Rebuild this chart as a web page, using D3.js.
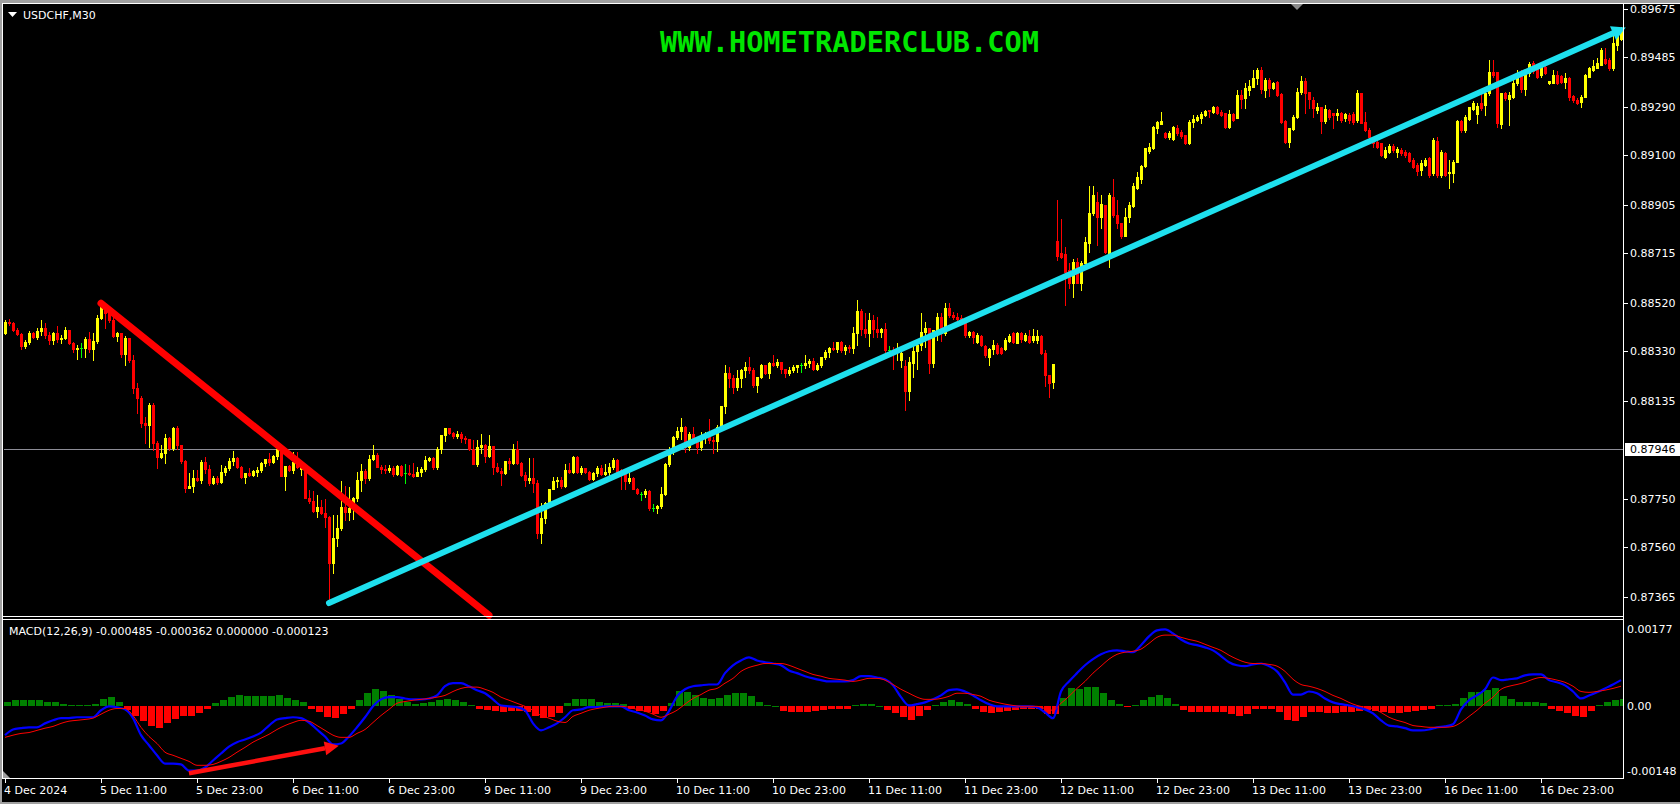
<!DOCTYPE html>
<html><head><meta charset="utf-8">
<script src="https://cdn.jsdelivr.net/npm/d3@7"></script>
<style>html,body{margin:0;padding:0;background:#000;overflow:hidden}svg{display:block}</style>
</head><body>
<svg id="chart" width="1680" height="804"></svg>
<script>
// ---------- DATA (USDCHF M30) ----------
const symbolTitle = "USDCHF,M30";
const watermark = "WWW.HOMETRADERCLUB.COM";
const macdTitle = "MACD(12,26,9) -0.000485 -0.000362 0.000000 -0.000123";

const open=[
0.88401,0.88445,0.88441,0.88413,0.88397,0.88350,0.88366,0.88401,0.88386,0.88409,
0.88421,0.88394,0.88374,0.88401,0.88378,0.88382,0.88413,0.88362,0.88339,0.88342,
0.88342,0.88378,0.88339,0.88370,0.88460,0.88507,0.88480,0.88452,0.88390,0.88401,
0.88319,0.88382,0.88295,0.88185,0.88146,0.88048,0.88040,0.88119,0.87969,0.87914,
0.87930,0.87989,0.87950,0.88028,0.87962,0.87899,0.87793,0.87801,0.87832,0.87824,
0.87895,0.87867,0.87812,0.87832,0.87816,0.87856,0.87871,0.87899,0.87911,0.87875,
0.87836,0.87852,0.87844,0.87856,0.87863,0.87891,0.87907,0.87895,0.87918,0.87946,
0.87840,0.87879,0.87863,0.87895,0.87867,0.87875,0.87753,0.87742,0.87702,0.87718,
0.87694,0.87679,0.87498,0.87596,0.87636,0.87718,0.87698,0.87714,0.87753,0.87824,
0.87859,0.87832,0.87907,0.87922,0.87875,0.87867,0.87863,0.87871,0.87848,0.87879,
0.87852,0.87852,0.87848,0.87840,0.87856,0.87867,0.87903,0.87911,0.87875,0.87946,
0.88001,0.88028,0.88009,0.87997,0.88005,0.87989,0.87985,0.87946,0.87887,0.87954,
0.87962,0.87918,0.87958,0.87875,0.87859,0.87852,0.87899,0.87891,0.87946,0.87891,
0.87844,0.87824,0.87832,0.87812,0.87616,0.87675,0.87734,0.87789,0.87820,0.87824,
0.87801,0.87863,0.87856,0.87914,0.87856,0.87871,0.87856,0.87828,0.87852,0.87871,
0.87848,0.87856,0.87875,0.87903,0.87863,0.87848,0.87820,0.87832,0.87789,0.87769,
0.87769,0.87781,0.87714,0.87714,0.87722,0.87769,0.87887,0.87934,0.87993,0.88017,
0.88032,0.87954,0.88005,0.87981,0.87954,0.87993,0.88005,0.87981,0.87977,0.88032,
0.88115,0.88244,0.88225,0.88189,0.88225,0.88256,0.88268,0.88256,0.88197,0.88229,
0.88276,0.88244,0.88284,0.88276,0.88287,0.88260,0.88244,0.88256,0.88268,0.88276,
0.88276,0.88284,0.88291,0.88260,0.88276,0.88307,0.88327,0.88342,0.88339,0.88366,
0.88335,0.88346,0.88342,0.88401,0.88488,0.88417,0.88401,0.88452,0.88417,0.88405,
0.88417,0.88335,0.88335,0.88327,0.88295,0.88272,0.88174,0.88284,0.88331,0.88354,
0.88405,0.88421,0.88284,0.88413,0.88464,0.88401,0.88500,0.88472,0.88464,0.88460,
0.88441,0.88394,0.88405,0.88366,0.88390,0.88350,0.88307,0.88339,0.88354,0.88342,
0.88339,0.88370,0.88401,0.88362,0.88401,0.88374,0.88390,0.88374,0.88374,0.88390,
0.88323,0.88236,0.88209,0.88763,0.88716,0.88712,0.88649,0.88598,0.88680,0.88598,
0.88676,0.88755,0.88873,0.88916,0.88857,0.88904,0.88716,0.88936,0.88865,0.88834,
0.88783,0.88857,0.88900,0.88971,0.89007,0.89058,0.89117,0.89128,0.89207,0.89223,
0.89187,0.89172,0.89164,0.89207,0.89191,0.89180,0.89148,0.89231,0.89238,0.89246,
0.89258,0.89278,0.89270,0.89290,0.89270,0.89266,0.89211,0.89262,0.89246,0.89337,
0.89325,0.89356,0.89368,0.89403,0.89435,0.89356,0.89396,0.89364,0.89388,0.89341,
0.89234,0.89152,0.89203,0.89250,0.89348,0.89392,0.89348,0.89317,0.89278,0.89290,
0.89234,0.89278,0.89266,0.89258,0.89266,0.89246,0.89258,0.89262,0.89238,0.89345,
0.89231,0.89199,0.89160,0.89152,0.89148,0.89093,0.89113,0.89136,0.89113,0.89121,
0.89113,0.89109,0.89081,0.89062,0.89042,0.89062,0.89089,0.89030,0.89156,0.89022,
0.89109,0.89030,0.89030,0.89073,0.89234,0.89199,0.89242,0.89282,0.89262,0.89305,
0.89297,0.89345,0.89427,0.89427,0.89223,0.89345,0.89321,0.89329,0.89384,0.89423,
0.89360,0.89423,0.89462,0.89443,0.89415,0.89447,0.89384,0.89384,0.89415,0.89411,
0.89388,0.89403,0.89333,0.89317,0.89309,0.89329,0.89407,0.89435,0.89443,0.89455,
0.89478,0.89474,0.89443,0.89533,0.89557];

const high=[
0.88452,0.88456,0.88445,0.88421,0.88401,0.88374,0.88409,0.88405,0.88421,0.88452,
0.88441,0.88405,0.88405,0.88429,0.88394,0.88425,0.88413,0.88366,0.88354,0.88362,
0.88386,0.88405,0.88401,0.88472,0.88531,0.88519,0.88500,0.88464,0.88405,0.88401,
0.88390,0.88382,0.88315,0.88205,0.88154,0.88072,0.88127,0.88127,0.87977,0.87962,
0.88005,0.87993,0.88032,0.88036,0.87962,0.87903,0.87852,0.87863,0.87863,0.87903,
0.87914,0.87883,0.87840,0.87840,0.87883,0.87879,0.87911,0.87938,0.87914,0.87879,
0.87852,0.87871,0.87863,0.87875,0.87895,0.87907,0.87930,0.87922,0.87962,0.87946,
0.87879,0.87883,0.87934,0.87934,0.87883,0.87879,0.87785,0.87781,0.87765,0.87746,
0.87749,0.87683,0.87687,0.87687,0.87820,0.87801,0.87797,0.87757,0.87856,0.87887,
0.87867,0.87922,0.87962,0.87930,0.87883,0.87883,0.87883,0.87879,0.87883,0.87883,
0.87887,0.87883,0.87891,0.87875,0.87875,0.87918,0.87914,0.87914,0.87954,0.88001,
0.88028,0.88028,0.88013,0.88017,0.88013,0.87997,0.87985,0.87981,0.87981,0.88005,
0.87966,0.88001,0.87958,0.87891,0.87871,0.87899,0.87911,0.87966,0.87977,0.87895,
0.87856,0.87911,0.87911,0.87824,0.87734,0.87738,0.87789,0.87836,0.87836,0.87836,
0.87887,0.87891,0.87918,0.87918,0.87879,0.87871,0.87859,0.87856,0.87879,0.87883,
0.87887,0.87891,0.87911,0.87907,0.87867,0.87852,0.87852,0.87836,0.87793,0.87777,
0.87789,0.87785,0.87730,0.87726,0.87797,0.87891,0.87954,0.87997,0.88032,0.88068,
0.88036,0.88013,0.88032,0.87993,0.88013,0.88013,0.88064,0.87993,0.88040,0.88115,
0.88276,0.88268,0.88236,0.88256,0.88260,0.88287,0.88307,0.88264,0.88229,0.88280,
0.88276,0.88287,0.88315,0.88299,0.88287,0.88260,0.88268,0.88276,0.88276,0.88284,
0.88315,0.88299,0.88303,0.88284,0.88307,0.88335,0.88346,0.88366,0.88366,0.88370,
0.88354,0.88354,0.88425,0.88531,0.88496,0.88480,0.88480,0.88472,0.88464,0.88421,
0.88441,0.88350,0.88346,0.88362,0.88335,0.88295,0.88307,0.88354,0.88362,0.88480,
0.88445,0.88421,0.88413,0.88480,0.88480,0.88519,0.88519,0.88484,0.88480,0.88472,
0.88445,0.88409,0.88409,0.88401,0.88394,0.88354,0.88342,0.88374,0.88362,0.88346,
0.88382,0.88397,0.88405,0.88405,0.88405,0.88401,0.88413,0.88417,0.88413,0.88394,
0.88335,0.88236,0.88280,0.88924,0.88849,0.88739,0.88676,0.88692,0.88696,0.88684,
0.88779,0.88979,0.88979,0.88955,0.88944,0.88904,0.88952,0.89007,0.88924,0.88834,
0.88893,0.88916,0.88991,0.89034,0.89062,0.89128,0.89148,0.89215,0.89234,0.89270,
0.89191,0.89195,0.89215,0.89219,0.89199,0.89180,0.89238,0.89258,0.89258,0.89270,
0.89278,0.89278,0.89293,0.89293,0.89278,0.89266,0.89278,0.89266,0.89356,0.89356,
0.89384,0.89396,0.89435,0.89443,0.89447,0.89403,0.89403,0.89388,0.89392,0.89345,
0.89238,0.89207,0.89258,0.89364,0.89411,0.89403,0.89348,0.89329,0.89305,0.89290,
0.89297,0.89282,0.89266,0.89282,0.89270,0.89266,0.89266,0.89270,0.89356,0.89345,
0.89270,0.89207,0.89168,0.89160,0.89148,0.89132,0.89144,0.89144,0.89132,0.89128,
0.89121,0.89113,0.89089,0.89069,0.89081,0.89089,0.89093,0.89168,0.89172,0.89121,
0.89113,0.89081,0.89081,0.89238,0.89238,0.89258,0.89290,0.89313,0.89305,0.89345,
0.89348,0.89474,0.89474,0.89427,0.89345,0.89348,0.89348,0.89403,0.89435,0.89435,
0.89435,0.89466,0.89470,0.89447,0.89455,0.89455,0.89392,0.89435,0.89431,0.89415,
0.89423,0.89407,0.89337,0.89325,0.89337,0.89419,0.89447,0.89474,0.89482,0.89521,
0.89521,0.89482,0.89580,0.89592,0.89604];

const low=[
0.88397,0.88433,0.88409,0.88394,0.88339,0.88342,0.88358,0.88382,0.88378,0.88394,
0.88382,0.88358,0.88358,0.88366,0.88362,0.88378,0.88358,0.88327,0.88299,0.88307,
0.88307,0.88327,0.88295,0.88362,0.88456,0.88421,0.88445,0.88386,0.88370,0.88307,
0.88276,0.88287,0.88166,0.88087,0.88032,0.87969,0.87954,0.87942,0.87871,0.87911,
0.87891,0.87942,0.87942,0.87946,0.87891,0.87777,0.87793,0.87777,0.87820,0.87812,
0.87852,0.87804,0.87808,0.87808,0.87812,0.87844,0.87863,0.87883,0.87871,0.87832,
0.87812,0.87840,0.87840,0.87840,0.87856,0.87879,0.87883,0.87891,0.87907,0.87840,
0.87785,0.87859,0.87852,0.87871,0.87844,0.87753,0.87734,0.87698,0.87679,0.87691,
0.87640,0.87349,0.87459,0.87565,0.87628,0.87667,0.87667,0.87671,0.87742,0.87781,
0.87812,0.87824,0.87903,0.87875,0.87852,0.87852,0.87856,0.87840,0.87844,0.87840,
0.87812,0.87844,0.87836,0.87840,0.87840,0.87859,0.87899,0.87867,0.87867,0.87930,
0.87977,0.88005,0.87989,0.87989,0.87973,0.87969,0.87942,0.87887,0.87879,0.87930,
0.87895,0.87914,0.87848,0.87856,0.87804,0.87848,0.87867,0.87887,0.87887,0.87840,
0.87801,0.87812,0.87777,0.87596,0.87577,0.87655,0.87730,0.87789,0.87797,0.87793,
0.87797,0.87852,0.87852,0.87852,0.87848,0.87852,0.87824,0.87824,0.87840,0.87844,
0.87844,0.87844,0.87867,0.87848,0.87789,0.87789,0.87812,0.87789,0.87769,0.87746,
0.87757,0.87706,0.87702,0.87694,0.87714,0.87765,0.87879,0.87926,0.87985,0.87985,
0.87934,0.87942,0.87969,0.87930,0.87942,0.87969,0.87969,0.87930,0.87938,0.88028,
0.88087,0.88189,0.88166,0.88178,0.88189,0.88229,0.88244,0.88189,0.88170,0.88225,
0.88240,0.88225,0.88272,0.88268,0.88244,0.88229,0.88236,0.88248,0.88248,0.88248,
0.88264,0.88268,0.88256,0.88256,0.88268,0.88299,0.88307,0.88335,0.88327,0.88327,
0.88319,0.88327,0.88323,0.88354,0.88394,0.88386,0.88350,0.88386,0.88386,0.88386,
0.88327,0.88323,0.88260,0.88295,0.88268,0.88099,0.88138,0.88229,0.88260,0.88335,
0.88346,0.88244,0.88268,0.88374,0.88370,0.88394,0.88464,0.88456,0.88441,0.88441,
0.88386,0.88386,0.88362,0.88362,0.88350,0.88307,0.88276,0.88319,0.88319,0.88319,
0.88335,0.88366,0.88362,0.88362,0.88366,0.88370,0.88362,0.88366,0.88362,0.88319,
0.88193,0.88150,0.88185,0.88688,0.88696,0.88511,0.88578,0.88543,0.88598,0.88570,
0.88676,0.88720,0.88865,0.88747,0.88814,0.88716,0.88661,0.88857,0.88814,0.88775,
0.88783,0.88838,0.88897,0.88967,0.88991,0.89054,0.89109,0.89124,0.89187,0.89223,
0.89168,0.89164,0.89160,0.89180,0.89168,0.89144,0.89144,0.89211,0.89234,0.89227,
0.89254,0.89250,0.89266,0.89262,0.89254,0.89207,0.89207,0.89234,0.89246,0.89286,
0.89286,0.89337,0.89368,0.89380,0.89345,0.89329,0.89333,0.89360,0.89333,0.89227,
0.89148,0.89132,0.89199,0.89246,0.89341,0.89266,0.89286,0.89250,0.89266,0.89187,
0.89227,0.89242,0.89207,0.89238,0.89231,0.89234,0.89227,0.89223,0.89231,0.89227,
0.89195,0.89168,0.89132,0.89128,0.89097,0.89089,0.89109,0.89113,0.89093,0.89101,
0.89093,0.89073,0.89050,0.89022,0.89022,0.89058,0.89014,0.89022,0.89014,0.89014,
0.89018,0.88971,0.88995,0.89073,0.89191,0.89191,0.89238,0.89278,0.89227,0.89278,
0.89258,0.89337,0.89407,0.89211,0.89207,0.89317,0.89219,0.89325,0.89376,0.89348,
0.89337,0.89411,0.89423,0.89403,0.89407,0.89419,0.89380,0.89384,0.89380,0.89384,
0.89364,0.89317,0.89309,0.89301,0.89290,0.89329,0.89407,0.89431,0.89443,0.89455,
0.89458,0.89435,0.89435,0.89514,0.89553];

const close=[
0.88445,0.88441,0.88413,0.88397,0.88350,0.88366,0.88401,0.88386,0.88409,0.88421,
0.88394,0.88374,0.88401,0.88378,0.88382,0.88413,0.88362,0.88339,0.88342,0.88342,
0.88378,0.88339,0.88370,0.88460,0.88519,0.88480,0.88452,0.88390,0.88401,0.88319,
0.88382,0.88295,0.88185,0.88146,0.88048,0.88040,0.88119,0.87969,0.87914,0.87930,
0.87989,0.87950,0.88028,0.87962,0.87899,0.87793,0.87801,0.87832,0.87824,0.87895,
0.87867,0.87812,0.87832,0.87816,0.87856,0.87871,0.87899,0.87911,0.87875,0.87836,
0.87852,0.87844,0.87859,0.87863,0.87891,0.87907,0.87895,0.87918,0.87946,0.87840,
0.87879,0.87863,0.87895,0.87875,0.87875,0.87753,0.87742,0.87702,0.87718,0.87694,
0.87679,0.87498,0.87596,0.87636,0.87718,0.87698,0.87714,0.87753,0.87824,0.87859,
0.87832,0.87907,0.87922,0.87875,0.87867,0.87863,0.87871,0.87848,0.87879,0.87844,
0.87852,0.87848,0.87840,0.87856,0.87867,0.87903,0.87911,0.87875,0.87946,0.88001,
0.88028,0.88009,0.87997,0.88005,0.87989,0.87985,0.87946,0.87887,0.87954,0.87962,
0.87918,0.87958,0.87875,0.87859,0.87852,0.87899,0.87891,0.87946,0.87891,0.87844,
0.87824,0.87832,0.87812,0.87616,0.87675,0.87734,0.87789,0.87820,0.87824,0.87801,
0.87863,0.87856,0.87914,0.87856,0.87871,0.87856,0.87828,0.87852,0.87871,0.87848,
0.87856,0.87875,0.87903,0.87852,0.87848,0.87820,0.87832,0.87789,0.87773,0.87769,
0.87781,0.87714,0.87714,0.87722,0.87769,0.87887,0.87934,0.87993,0.88017,0.88032,
0.87954,0.88005,0.87981,0.87954,0.87993,0.88005,0.87981,0.87977,0.88032,0.88115,
0.88244,0.88225,0.88189,0.88225,0.88256,0.88268,0.88256,0.88197,0.88229,0.88276,
0.88244,0.88284,0.88276,0.88287,0.88260,0.88244,0.88256,0.88268,0.88276,0.88276,
0.88284,0.88291,0.88260,0.88276,0.88307,0.88327,0.88342,0.88339,0.88366,0.88335,
0.88346,0.88342,0.88401,0.88488,0.88417,0.88401,0.88452,0.88417,0.88405,0.88417,
0.88335,0.88335,0.88327,0.88331,0.88323,0.88174,0.88287,0.88331,0.88354,0.88405,
0.88421,0.88284,0.88413,0.88464,0.88401,0.88500,0.88472,0.88464,0.88456,0.88452,
0.88394,0.88405,0.88386,0.88394,0.88354,0.88315,0.88339,0.88354,0.88323,0.88323,
0.88374,0.88390,0.88366,0.88401,0.88378,0.88394,0.88366,0.88390,0.88390,0.88323,
0.88236,0.88205,0.88280,0.88704,0.88700,0.88641,0.88598,0.88680,0.88598,0.88676,
0.88759,0.88873,0.88944,0.88857,0.88908,0.88720,0.88944,0.88865,0.88834,0.88783,
0.88857,0.88904,0.88979,0.89014,0.89058,0.89128,0.89132,0.89211,0.89231,0.89234,
0.89172,0.89187,0.89211,0.89187,0.89176,0.89148,0.89231,0.89242,0.89250,0.89262,
0.89274,0.89274,0.89290,0.89266,0.89258,0.89211,0.89262,0.89238,0.89337,0.89321,
0.89364,0.89372,0.89403,0.89435,0.89360,0.89396,0.89364,0.89384,0.89337,0.89231,
0.89152,0.89207,0.89250,0.89348,0.89392,0.89345,0.89321,0.89286,0.89290,0.89234,
0.89282,0.89250,0.89258,0.89266,0.89238,0.89262,0.89238,0.89231,0.89345,0.89227,
0.89199,0.89172,0.89148,0.89132,0.89101,0.89121,0.89136,0.89121,0.89124,0.89109,
0.89101,0.89077,0.89054,0.89038,0.89069,0.89081,0.89022,0.89160,0.89022,0.89113,
0.89022,0.89034,0.89073,0.89234,0.89199,0.89250,0.89290,0.89305,0.89293,0.89286,
0.89345,0.89427,0.89415,0.89227,0.89345,0.89325,0.89337,0.89384,0.89407,0.89360,
0.89427,0.89458,0.89431,0.89407,0.89447,0.89423,0.89392,0.89415,0.89384,0.89388,
0.89403,0.89329,0.89317,0.89305,0.89329,0.89415,0.89443,0.89451,0.89462,0.89514,
0.89462,0.89443,0.89541,0.89580,0.89592];

// MACD(12,26,9) read every 2nd bar (bar index = 2*k)
const macdStep = 2;
const macdMain=[
-0.00066,-0.00053,-0.00050,-0.00048,-0.00048,-0.00039,-0.00032,-0.00027,-0.00027,-0.00025,
-0.00025,-0.00025,-0.00009,0.00000,-0.00002,-0.00007,-0.00027,-0.00066,-0.00089,-0.00112,
-0.00131,-0.00131,-0.00133,-0.00147,-0.00147,-0.00140,-0.00124,-0.00108,-0.00092,-0.00082,
-0.00076,-0.00069,-0.00060,-0.00044,-0.00030,-0.00027,-0.00025,-0.00027,-0.00037,-0.00053,
-0.00069,-0.00087,-0.00085,-0.00069,-0.00048,-0.00025,0.00000,0.00016,0.00021,0.00021,
0.00018,0.00016,0.00016,0.00018,0.00025,0.00046,0.00053,0.00053,0.00046,0.00037,
0.00030,0.00016,0.00002,0.00000,-0.00002,-0.00009,-0.00039,-0.00055,-0.00048,-0.00039,
-0.00025,-0.00009,-0.00007,-0.00002,-0.00002,0.00000,0.00000,0.00000,-0.00009,-0.00014,
-0.00021,-0.00030,-0.00032,-0.00011,0.00023,0.00039,0.00046,0.00048,0.00050,0.00050,
0.00076,0.00094,0.00105,0.00112,0.00105,0.00101,0.00098,0.00094,0.00082,0.00076,
0.00069,0.00064,0.00060,0.00057,0.00057,0.00057,0.00060,0.00069,0.00069,0.00066,
0.00062,0.00048,0.00021,0.00002,0.00005,0.00009,0.00016,0.00025,0.00037,0.00039,
0.00034,0.00025,0.00014,0.00005,0.00000,0.00000,0.00000,0.00000,0.00000,-0.00002,
-0.00014,-0.00027,0.00034,0.00057,0.00076,0.00094,0.00108,0.00119,0.00126,0.00128,
0.00126,0.00124,0.00140,0.00160,0.00174,0.00176,0.00167,0.00153,0.00144,0.00140,
0.00135,0.00128,0.00115,0.00101,0.00094,0.00092,0.00096,0.00098,0.00092,0.00080,
0.00055,0.00027,0.00027,0.00034,0.00030,0.00018,0.00009,0.00005,0.00002,-0.00002,
-0.00007,-0.00016,-0.00032,-0.00044,-0.00046,-0.00050,-0.00055,-0.00055,-0.00053,-0.00048,
-0.00046,-0.00041,-0.00007,0.00014,0.00025,0.00039,0.00066,0.00060,0.00062,0.00064,
0.00071,0.00073,0.00073,0.00060,0.00055,0.00048,0.00034,0.00018,0.00025,0.00032,
0.00041,0.00050,0.00060];
const macdSignal=[
-0.00071,-0.00066,-0.00062,-0.00060,-0.00055,-0.00050,-0.00046,-0.00039,-0.00034,-0.00032,
-0.00030,-0.00027,-0.00018,-0.00009,-0.00005,-0.00005,-0.00021,-0.00048,-0.00069,-0.00085,
-0.00105,-0.00112,-0.00119,-0.00126,-0.00135,-0.00135,-0.00133,-0.00126,-0.00117,-0.00105,
-0.00094,-0.00082,-0.00073,-0.00064,-0.00053,-0.00044,-0.00037,-0.00032,-0.00034,-0.00044,
-0.00055,-0.00066,-0.00071,-0.00071,-0.00062,-0.00053,-0.00037,-0.00021,-0.00007,0.00007,
0.00011,0.00014,0.00016,0.00018,0.00021,0.00025,0.00034,0.00041,0.00044,0.00044,
0.00039,0.00032,0.00021,0.00014,0.00007,0.00000,-0.00009,-0.00021,-0.00027,-0.00034,
-0.00037,-0.00023,-0.00016,-0.00009,-0.00005,-0.00002,0.00000,0.00000,-0.00002,-0.00007,
-0.00011,-0.00018,-0.00025,-0.00018,-0.00009,0.00005,0.00018,0.00027,0.00037,0.00041,
0.00053,0.00064,0.00080,0.00089,0.00094,0.00098,0.00098,0.00098,0.00094,0.00087,
0.00080,0.00073,0.00069,0.00064,0.00062,0.00060,0.00057,0.00060,0.00064,0.00064,
0.00060,0.00050,0.00039,0.00030,0.00021,0.00016,0.00016,0.00018,0.00023,0.00030,
0.00030,0.00027,0.00023,0.00014,0.00009,0.00005,0.00002,0.00000,0.00000,0.00000,
-0.00005,-0.00009,0.00007,0.00023,0.00041,0.00057,0.00076,0.00092,0.00108,0.00119,
0.00124,0.00126,0.00131,0.00144,0.00158,0.00163,0.00163,0.00158,0.00153,0.00149,
0.00142,0.00135,0.00128,0.00117,0.00108,0.00101,0.00098,0.00098,0.00096,0.00092,
0.00080,0.00062,0.00050,0.00046,0.00041,0.00034,0.00025,0.00018,0.00009,0.00002,
-0.00002,-0.00005,-0.00014,-0.00025,-0.00032,-0.00037,-0.00044,-0.00046,-0.00048,-0.00048,
-0.00048,-0.00046,-0.00037,-0.00023,-0.00009,0.00007,0.00021,0.00039,0.00046,0.00050,
0.00055,0.00062,0.00066,0.00064,0.00060,0.00055,0.00046,0.00034,0.00032,0.00034,
0.00037,0.00041,0.00046];
const macdHist=[
0.00011,0.00014,0.00014,0.00014,0.00014,0.00011,0.00011,0.00005,0.00002,0.00002,
0.00002,0.00005,0.00016,0.00021,0.00011,-0.00009,-0.00023,-0.00034,-0.00046,-0.00050,
-0.00039,-0.00030,-0.00023,-0.00021,-0.00016,-0.00005,0.00007,0.00014,0.00021,0.00025,
0.00023,0.00023,0.00023,0.00023,0.00025,0.00018,0.00014,0.00009,-0.00005,-0.00014,
-0.00025,-0.00027,-0.00018,-0.00005,0.00014,0.00030,0.00039,0.00034,0.00025,0.00016,
0.00011,0.00005,0.00007,0.00009,0.00014,0.00016,0.00014,0.00009,0.00002,-0.00005,
-0.00009,-0.00011,-0.00014,-0.00011,-0.00011,-0.00014,-0.00021,-0.00027,-0.00025,-0.00016,
0.00007,0.00016,0.00016,0.00016,0.00011,0.00007,0.00007,0.00005,-0.00007,-0.00011,
-0.00014,-0.00018,-0.00011,0.00007,0.00034,0.00032,0.00025,0.00018,0.00016,0.00018,
0.00027,0.00030,0.00030,0.00023,0.00011,0.00002,0.00000,-0.00011,-0.00014,-0.00014,
-0.00014,-0.00011,-0.00009,-0.00007,-0.00005,-0.00005,0.00002,0.00005,0.00005,0.00000,
-0.00009,-0.00016,-0.00025,-0.00032,-0.00021,-0.00009,0.00002,0.00009,0.00014,0.00011,
0.00005,-0.00005,-0.00014,-0.00016,-0.00014,-0.00011,-0.00009,-0.00007,-0.00005,-0.00005,
-0.00018,-0.00018,0.00018,0.00041,0.00039,0.00044,0.00044,0.00030,0.00014,0.00005,
-0.00002,0.00002,0.00014,0.00021,0.00025,0.00018,0.00005,-0.00009,-0.00014,-0.00014,
-0.00014,-0.00014,-0.00014,-0.00018,-0.00023,-0.00018,-0.00007,-0.00005,-0.00005,-0.00014,
-0.00032,-0.00034,-0.00025,-0.00014,-0.00014,-0.00016,-0.00016,-0.00014,-0.00014,-0.00011,
-0.00009,-0.00011,-0.00014,-0.00016,-0.00016,-0.00014,-0.00011,-0.00009,-0.00005,0.00002,
0.00002,0.00005,0.00018,0.00032,0.00032,0.00037,0.00041,0.00023,0.00016,0.00011,
0.00011,0.00009,0.00007,-0.00007,-0.00011,-0.00016,-0.00021,-0.00025,-0.00011,0.00002,
0.00009,0.00014,0.00016];

const dateTickBars=[0,24,48,72,96,120,144,168,192,216,240,264,288,312,336,360,384];
const dateLabels=["4 Dec 2024","5 Dec 11:00","5 Dec 23:00","6 Dec 11:00","6 Dec 23:00","9 Dec 11:00","9 Dec 23:00","10 Dec 11:00","10 Dec 23:00","11 Dec 11:00","11 Dec 23:00","12 Dec 11:00","12 Dec 23:00","13 Dec 11:00","13 Dec 23:00","16 Dec 11:00","16 Dec 23:00"];
const priceTicks=[0.89675,0.89485,0.89290,0.89100,0.88905,0.88715,0.88520,0.88330,0.88135,0.87750,0.87560,0.87365];
const currentPrice=0.87946;
const macdTicks=[0.00177,0.00,-0.00148];
const macdTickLabels=["0.00177","0.00","-0.00148"];

// hand-drawn objects anchored to (bar, value)
const redTrend=[{bar:24,v:0.88519},{bar:121,v:0.87293}];
const cyanTrend=[{bar:81,v:0.87341},{bar:402,v:0.89580}];
const macdArrow=[{bar:46,v:-0.00153},{bar:80,v:-0.00096}];

// ---------- DRAWING ----------
const svg=d3.select("#chart");
const FONT='"DejaVu Sans", Verdana, sans-serif';
const PL=4, PR=1623, PT=4, PB=616, MT=620, MB=778;

const x=d3.scaleLinear().domain([0,404]).range([5,1621]);
const y=d3.scaleLinear().domain([0.87365,0.89675]).range([597,9]);
const ym=d3.scaleLinear().domain([-0.00148,0.00177]).range([771,629]);

svg.append("rect").attr("width",1680).attr("height",804).attr("fill","#000");
// window frame
svg.append("rect").attr("x",0).attr("y",0).attr("width",1680).attr("height",3).attr("fill","#a0a0a0");
svg.append("rect").attr("x",0).attr("y",0).attr("width",2).attr("height",804).attr("fill","#a0a0a0");
svg.append("rect").attr("x",0).attr("y",802).attr("width",1680).attr("height",2).attr("fill","#a0a0a0");

const defs=svg.append("defs");
defs.append("clipPath").attr("id","cpMain").append("rect").attr("x",PL).attr("y",PT+1).attr("width",PR-PL).attr("height",PB-PT-1);
defs.append("clipPath").attr("id","cpMacd").append("rect").attr("x",PL).attr("y",MT).attr("width",PR-PL).attr("height",MB-MT);

// current price (bid) line
svg.append("line").attr("x1",PL).attr("x2",PR).attr("y1",Math.round(y(currentPrice))+0.5).attr("y2",Math.round(y(currentPrice))+0.5)
  .attr("stroke","#8c8c96").attr("stroke-width",1);

// candles
const candles=close.map((c,i)=>({i,o:open[i],h:high[i],l:low[i],c}));
const col=d=>d.c>d.o?"#ffff00":(d.c<d.o?"#ff0000":"#00ff00");
const gC=svg.append("g").attr("clip-path","url(#cpMain)").attr("shape-rendering","crispEdges");
gC.selectAll("rect.w").data(candles).join("rect").attr("class","w")
  .attr("x",d=>Math.round(x(d.i))).attr("width",1)
  .attr("y",d=>Math.round(y(d.h)))
  .attr("height",d=>Math.max(1,Math.round(y(d.l))-Math.round(y(d.h))+1))
  .attr("fill",col);
gC.selectAll("rect.b").data(candles).join("rect").attr("class","b")
  .attr("x",d=>Math.round(x(d.i))-1).attr("width",3)
  .attr("y",d=>Math.round(y(Math.max(d.o,d.c))))
  .attr("height",d=>Math.max(1,Math.round(y(Math.min(d.o,d.c)))-Math.round(y(Math.max(d.o,d.c)))+1))
  .attr("fill",col);

// MACD
const gM=svg.append("g").attr("clip-path","url(#cpMacd)");
gM.append("g").attr("shape-rendering","crispEdges").selectAll("rect").data(macdHist).join("rect")
  .attr("x",(d,k)=>Math.round(x(k*macdStep))-1).attr("width",7)
  .attr("y",d=>Math.round(ym(Math.max(0,d))))
  .attr("height",d=>Math.max(1,Math.round(ym(Math.min(0,d)))-Math.round(ym(Math.max(0,d)))))
  .attr("fill",d=>d>=0?"#008000":"#ff0000");
const mLine=d3.line().x((d,k)=>x(k*macdStep)).y(d=>ym(d)).curve(d3.curveMonotoneX);
gM.append("path").datum(macdMain).attr("d",mLine).attr("fill","none").attr("stroke","#0000ff").attr("stroke-width",2.2);
gM.append("path").datum(macdSignal).attr("d",mLine).attr("fill","none").attr("stroke","#ff0000").attr("stroke-width",1);

// arrow helper
function arrowHead(p0,p1,len,hw){
  const dx=p1[0]-p0[0], dy=p1[1]-p0[1], n=Math.hypot(dx,dy), ux=dx/n, uy=dy/n;
  const tip=[p1[0]+ux*len,p1[1]+uy*len];
  return [tip,[p1[0]-uy*hw,p1[1]+ux*hw],[p1[0]+uy*hw,p1[1]-ux*hw]];
}
// red down trend line
svg.append("line").attr("x1",x(redTrend[0].bar)).attr("y1",y(redTrend[0].v)).attr("x2",x(redTrend[1].bar)).attr("y2",y(redTrend[1].v))
  .attr("stroke","#ff0000").attr("stroke-width",7).attr("stroke-linecap","round");
// cyan up trend arrow
const c0=[x(cyanTrend[0].bar),y(cyanTrend[0].v)], c1=[x(cyanTrend[1].bar),y(cyanTrend[1].v)];
svg.append("line").attr("x1",c0[0]).attr("y1",c0[1]).attr("x2",c1[0]).attr("y2",c1[1])
  .attr("stroke","#1ee0ee").attr("stroke-width",6).attr("stroke-linecap","round");
svg.append("polygon").attr("points",arrowHead(c0,c1,14,7.5).map(p=>p.join(",")).join(" ")).attr("fill","#1ee0ee");
// red arrow on MACD
const a0=[x(macdArrow[0].bar),ym(macdArrow[0].v)], a1=[x(macdArrow[1].bar),ym(macdArrow[1].v)];
svg.append("line").attr("x1",a0[0]).attr("y1",a0[1]).attr("x2",a1[0]).attr("y2",a1[1])
  .attr("stroke","#ff1010").attr("stroke-width",4.5).attr("stroke-linecap","butt");
svg.append("polygon").attr("points",arrowHead(a0,a1,14,7).map(p=>p.join(",")).join(" ")).attr("fill","#ff1010");

// panel borders
const bd=svg.append("g").attr("stroke","#ffffff").attr("stroke-width",1).attr("shape-rendering","crispEdges");
bd.append("line").attr("x1",2).attr("x2",1680).attr("y1",3.5).attr("y2",3.5);
bd.append("line").attr("x1",2.5).attr("x2",2.5).attr("y1",3).attr("y2",779);
bd.append("line").attr("x1",2).attr("x2",PR+1).attr("y1",PB+0.5).attr("y2",PB+0.5);
bd.append("line").attr("x1",2).attr("x2",PR+1).attr("y1",MT-0.5).attr("y2",MT-0.5);
bd.append("line").attr("x1",2).attr("x2",PR+1).attr("y1",MB+0.5).attr("y2",MB+0.5);
bd.append("line").attr("x1",PR+0.5).attr("x2",PR+0.5).attr("y1",3).attr("y2",MB+1);

// markers
svg.append("polygon").attr("points","1291,4 1303,4 1297,10").attr("fill","#8c8c8c");
svg.append("polygon").attr("points","3,771 3,778 10,778").attr("fill","#a0a0a0");

// price axis
const pa=svg.append("g");
pa.selectAll("line").data(priceTicks).join("line").attr("x1",PR+1).attr("x2",PR+5)
  .attr("y1",d=>Math.round(y(d))+0.5).attr("y2",d=>Math.round(y(d))+0.5).attr("stroke","#fff").attr("shape-rendering","crispEdges");
pa.selectAll("text").data(priceTicks).join("text").attr("x",1630).attr("y",d=>y(d)).attr("dy","0.36em")
  .attr("fill","#fff").attr("font-family",FONT).attr("font-size","11px").text(d=>d.toFixed(5));
svg.append("rect").attr("x",1625).attr("y",Math.round(y(currentPrice))-6).attr("width",55).attr("height",13).attr("fill","#fff");
svg.append("text").attr("x",1630).attr("y",y(currentPrice)).attr("dy","0.36em").attr("fill","#000")
  .attr("font-family",FONT).attr("font-size","11px").text(currentPrice.toFixed(5));

// MACD axis
svg.append("g").selectAll("text").data(macdTicks).join("text").attr("x",1627).attr("y",d=>ym(d)).attr("dy","0.36em")
  .attr("fill","#fff").attr("font-family",FONT).attr("font-size","11px").text((d,i)=>macdTickLabels[i]);

// time axis
const ta=svg.append("g");
ta.selectAll("line").data(dateTickBars).join("line").attr("x1",d=>x(d)+0.5).attr("x2",d=>x(d)+0.5).attr("y1",MB+1).attr("y2",MB+5)
  .attr("stroke","#fff").attr("shape-rendering","crispEdges");
ta.selectAll("text").data(dateTickBars).join("text").attr("x",d=>x(d)-1).attr("y",790).attr("dy","0.36em")
  .attr("fill","#fff").attr("font-family",FONT).attr("font-size","11px").text((d,i)=>dateLabels[i]);

// titles
svg.append("polygon").attr("points","8,12 17,12 12.5,17").attr("fill","#fff");
svg.append("text").attr("x",23).attr("y",15).attr("dy","0.36em").attr("fill","#fff").attr("font-family",FONT).attr("font-size","11px").text(symbolTitle);
svg.append("text").attr("x",9).attr("y",631).attr("dy","0.36em").attr("fill","#fff").attr("font-family",FONT).attr("font-size","11px").text(macdTitle);
svg.append("text").attr("x",660).attr("y",52).attr("fill","#00e600").attr("font-family",'"DejaVu Sans Mono", monospace')
  .attr("font-weight","bold").attr("font-size","28px").attr("textLength",379).attr("lengthAdjust","spacingAndGlyphs").text(watermark);
</script>
</body></html>
